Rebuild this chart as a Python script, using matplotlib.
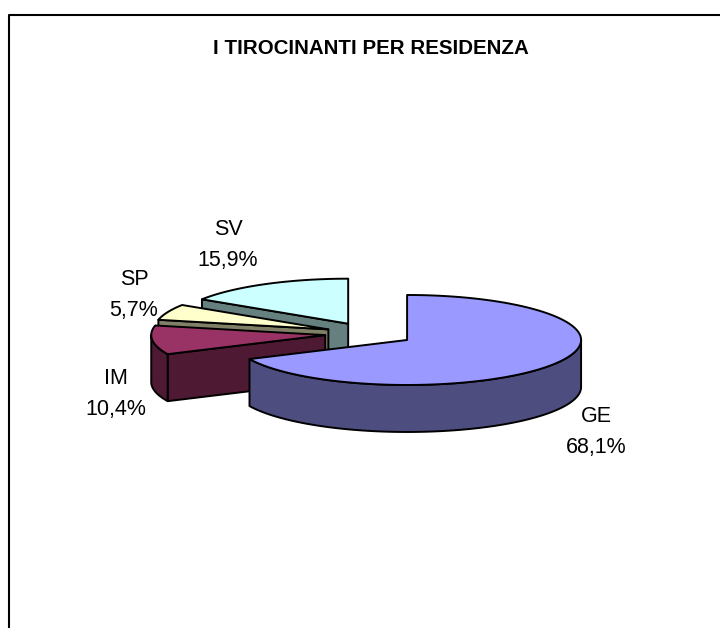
import numpy as np
import matplotlib
matplotlib.use("Agg")
import matplotlib.pyplot as plt
from matplotlib.patches import Polygon

plt.rcParams['font.family'] = ['Liberation Sans', 'DejaVu Sans']

labels = ['GE', 'IM', 'SP', 'SV']
values = [68.1, 10.4, 5.7, 15.9]
top_colors = ['#9999FF', '#993366', '#FFFFCC', '#CCFFFF']
side_colors = ['#4D4D80', '#4D1933', '#808066', '#668080']

# pie geometry in pixels
hub_x, hub_y = 369.5, 333.8
rx, ry = 174, 45
depth = 47
explode = 0.256

def arc(cx, cy, a, b):
    t = np.radians(np.linspace(a, b, max(int(abs(b - a)), 2)))
    return np.column_stack([cx + rx * np.sin(t), cy - ry * np.cos(t)])

def draw_wedge(ax, a, b, top, side):
    mid = np.radians((a + b) / 2)
    cx = hub_x + explode * rx * np.sin(mid)
    cy = hub_y - explode * ry * np.cos(mid)
    centre = np.array([cx, cy])
    down = np.array([0, depth])
    kw = dict(edgecolor='black', linewidth=1.4, joinstyle='round')
    # radial faces looking at the viewer
    if np.sin(np.radians(a)) < -1e-6:
        p = arc(cx, cy, a, a)[0]
        ax.add_patch(Polygon([centre, p, p + down, centre + down], facecolor=side, **kw))
    if np.sin(np.radians(b)) > 1e-6:
        p = arc(cx, cy, b, b)[0]
        ax.add_patch(Polygon([centre, p, p + down, centre + down], facecolor=side, **kw))
    # rim, only the front half
    lo, hi = max(a, 90), min(b, 270)
    if hi > lo:
        rim = arc(cx, cy, lo, hi)
        ax.add_patch(Polygon(np.vstack([rim, rim[::-1] + down]), facecolor=side, **kw))
    ax.add_patch(Polygon(np.vstack([centre, arc(cx, cy, a, b)]), facecolor=top, **kw))

fig = plt.figure(figsize=(7.2, 6.28), dpi=100)
ax = fig.add_axes([0, 0, 1, 1])
ax.set_xlim(0, 720)
ax.set_ylim(628, 0)
ax.axis('off')

# chart frame, the picture cuts it on the right and at the bottom
ax.plot([9, 9, 730], [640, 15, 15], color='black', linewidth=1.5)

edges = np.cumsum([0] + values) / sum(values) * 360
for i in [3, 2, 1, 0]:
    draw_wedge(ax, edges[i], edges[i + 1], top_colors[i], side_colors[i])

ax.text(371, 48, 'I TIROCINANTI PER RESIDENZA', ha='center', va='center',
        fontsize=14.8, fontweight='bold')

label_pos = [(596, 432), (116, 394), (134, 295), (228, 245)]
for name, v, (x, y) in zip(labels, values, label_pos):
    ax.text(x, y, name + '\n' + '{:.1f}%'.format(v).replace('.', ','), ha='center',
            va='center', fontsize=15.5, linespacing=1.6)

plt.savefig('out.png', dpi=100)
